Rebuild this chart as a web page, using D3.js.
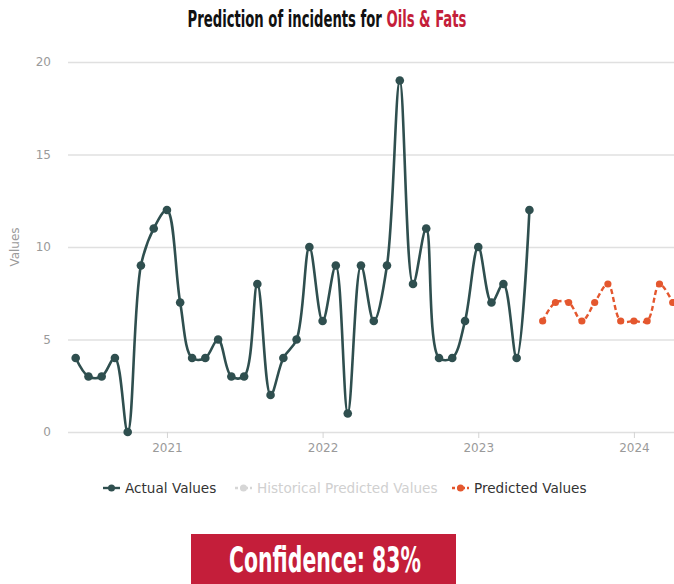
<!DOCTYPE html>
<html>
<head>
<meta charset="utf-8">
<script src="https://cdn.jsdelivr.net/npm/d3@7"></script>
<style>
  html, body { margin: 0; padding: 0; background: #ffffff; overflow: hidden; }
  svg { display: block; }
</style>
</head>
<body>
<svg id="chart" width="674" height="584"></svg>
<script>
// Monthly incident counts (observed)
const actualDates = [
  "2020-06","2020-07","2020-08","2020-09","2020-10","2020-11","2020-12",
  "2021-01","2021-02","2021-03","2021-04","2021-05","2021-06","2021-07","2021-08","2021-09","2021-10","2021-11","2021-12",
  "2022-01","2022-02","2022-03","2022-04","2022-05","2022-06","2022-07","2022-08","2022-09","2022-10","2022-11","2022-12",
  "2023-01","2023-02","2023-03","2023-04","2023-05"
];
const actualValues = [
  4, 3, 3, 4, 0, 9, 11,
  12, 7, 4, 4, 5, 3, 3, 8, 2, 4, 5, 10,
  6, 9, 1, 9, 6, 9, 19, 8, 11, 4, 4, 6,
  10, 7, 8, 4, 12
];

// Forecast
const predictedDates = [
  "2023-06","2023-07","2023-08","2023-09","2023-10","2023-11","2023-12",
  "2024-01","2024-02","2024-03","2024-04"
];
const predictedValues = [6, 7, 7, 6, 7, 8, 6, 6, 6, 8, 7];

const yTicks = [0, 5, 10, 15, 20];
const xTickYears = ["2021", "2022", "2023", "2024"];
const legendLabels = ["Actual Values", "Historical Predicted Values", "Predicted Values"];

const titleMain = "Prediction of incidents for ";
const titleCategory = "Oils & Fats";
const confidenceText = "Confidence: 83%";

const parseMonth = d3.timeParse("%Y-%m");
const parseYear = d3.timeParse("%Y");

const actual = actualDates.map((d, i) => ({ date: parseMonth(d), value: actualValues[i] }));
const predicted = predictedDates.map((d, i) => ({ date: parseMonth(d), value: predictedValues[i] }));

const plot = { left: 68, right: 674, top: 62, bottom: 432 };

const colActual = "#2f4f4f";
const colPred = "#e4572e";
const colGrid = "#e0e0e0";
const colTick = "#9a9a9a";
const colBrand = "#c41e3a";

const svg = d3.select("#chart");

const x = d3.scaleTime()
  .domain([new Date(2020, 4, 14), new Date(2024, 3, 4)])
  .range([plot.left, plot.right]);

const y = d3.scaleLinear()
  .domain([0, 20])
  .range([plot.bottom, plot.top]);

// Squeeze a text element horizontally into a given width, centred on cx
function fitWidth(sel, targetWidth, cx) {
  const w = sel.node().getComputedTextLength();
  const s = targetWidth / w;
  sel.attr("x", 0).attr("text-anchor", "middle")
     .attr("transform", `translate(${cx},0) scale(${s},1)`);
}

// Title
const title = svg.append("text")
  .attr("y", 27)
  .attr("font-family", "'DejaVu Sans Condensed', 'Liberation Sans Narrow', sans-serif")
  .attr("font-weight", "bold")
  .attr("font-size", 23)
  .attr("fill", "#111");
title.append("tspan").text(titleMain);
title.append("tspan").attr("fill", colBrand).text(titleCategory);
fitWidth(title, 279, 327);

// Grid lines (y)
const yAxis = d3.axisLeft(y).tickValues(yTicks).tickSize(-(plot.right - plot.left)).tickPadding(17);
const gy = svg.append("g").attr("transform", `translate(${plot.left},0)`).call(yAxis);
gy.select(".domain").remove();
gy.selectAll(".tick line").attr("stroke", colGrid).attr("stroke-width", 1.6);
gy.selectAll(".tick text")
  .attr("fill", colTick)
  .attr("font-family", "'DejaVu Sans', sans-serif")
  .attr("font-size", 12);

// X axis
const xAxis = d3.axisBottom(x)
  .tickValues(xTickYears.map(parseYear))
  .tickFormat(d3.timeFormat("%Y"))
  .tickSize(6)
  .tickPadding(5);
const gx = svg.append("g").attr("transform", `translate(0,${plot.bottom})`).call(xAxis);
gx.select(".domain").remove();
gx.selectAll(".tick line").attr("stroke", "#d4d4d4").attr("stroke-width", 1);
gx.selectAll(".tick text")
  .attr("fill", colTick)
  .attr("font-family", "'DejaVu Sans', sans-serif")
  .attr("font-size", 12);

// Y axis title
svg.append("text")
  .attr("transform", `translate(19,${(plot.top + plot.bottom) / 2}) rotate(-90)`)
  .attr("text-anchor", "middle")
  .attr("fill", colTick)
  .attr("font-family", "'DejaVu Sans', sans-serif")
  .attr("font-size", 12)
  .text("Values");

// Clip to plotting region
svg.append("clipPath").attr("id", "plotClip")
  .append("rect")
  .attr("x", plot.left - 10).attr("y", plot.top - 20)
  .attr("width", plot.right - plot.left + 10).attr("height", plot.bottom - plot.top + 40);

const plotG = svg.append("g").attr("clip-path", "url(#plotClip)");

const line = d3.line()
  .x(d => x(d.date))
  .y(d => y(d.value))
  .curve(d3.curveCatmullRom.alpha(0.5));

// Actual series
plotG.append("path")
  .datum(actual)
  .attr("d", line)
  .attr("fill", "none")
  .attr("stroke", colActual)
  .attr("stroke-width", 2.6)
  .attr("stroke-linejoin", "round");
plotG.selectAll("circle.actual")
  .data(actual)
  .join("circle")
  .attr("class", "actual")
  .attr("cx", d => x(d.date))
  .attr("cy", d => y(d.value))
  .attr("r", 4.3)
  .attr("fill", colActual);

// Predicted series
plotG.append("path")
  .datum(predicted)
  .attr("d", line)
  .attr("fill", "none")
  .attr("stroke", colPred)
  .attr("stroke-width", 2.4)
  .attr("stroke-dasharray", "5,3");
plotG.selectAll("circle.pred")
  .data(predicted)
  .join("circle")
  .attr("class", "pred")
  .attr("cx", d => x(d.date))
  .attr("cy", d => y(d.value))
  .attr("r", 3.6)
  .attr("fill", colPred);

// Legend
const legendY = 488;
const legendItems = [
  { label: legendLabels[0], color: colActual, text: "#333", dash: null, x: 103 },
  { label: legendLabels[1], color: "#d6d6d6", text: "#d0d0d0", dash: "3,2", x: 235 },
  { label: legendLabels[2], color: colPred, text: "#333", dash: "3,2", x: 452 }
];
const lg = svg.append("g");
legendItems.forEach(it => {
  const g = lg.append("g");
  g.append("line")
    .attr("x1", it.x).attr("x2", it.x + 17)
    .attr("y1", legendY).attr("y2", legendY)
    .attr("stroke", it.color).attr("stroke-width", 2.4)
    .attr("stroke-dasharray", it.dash);
  g.append("circle")
    .attr("cx", it.x + 8.5).attr("cy", legendY).attr("r", 3.5)
    .attr("fill", it.color);
  g.append("text")
    .attr("x", it.x + 22).attr("y", legendY + 4.5)
    .attr("fill", it.text)
    .attr("font-family", "'DejaVu Sans', sans-serif")
    .attr("font-size", 13.6)
    .text(it.label);
});

// Confidence badge
svg.append("rect")
  .attr("x", 191).attr("y", 534)
  .attr("width", 265).attr("height", 50)
  .attr("fill", colBrand);
const conf = svg.append("text")
  .attr("y", 572)
  .attr("fill", "#ffffff")
  .attr("font-family", "'DejaVu Sans Condensed', 'Liberation Sans Narrow', sans-serif")
  .attr("font-weight", "bold")
  .attr("font-size", 35)
  .text(confidenceText);
fitWidth(conf, 192, 325);
</script>
</body>
</html>
